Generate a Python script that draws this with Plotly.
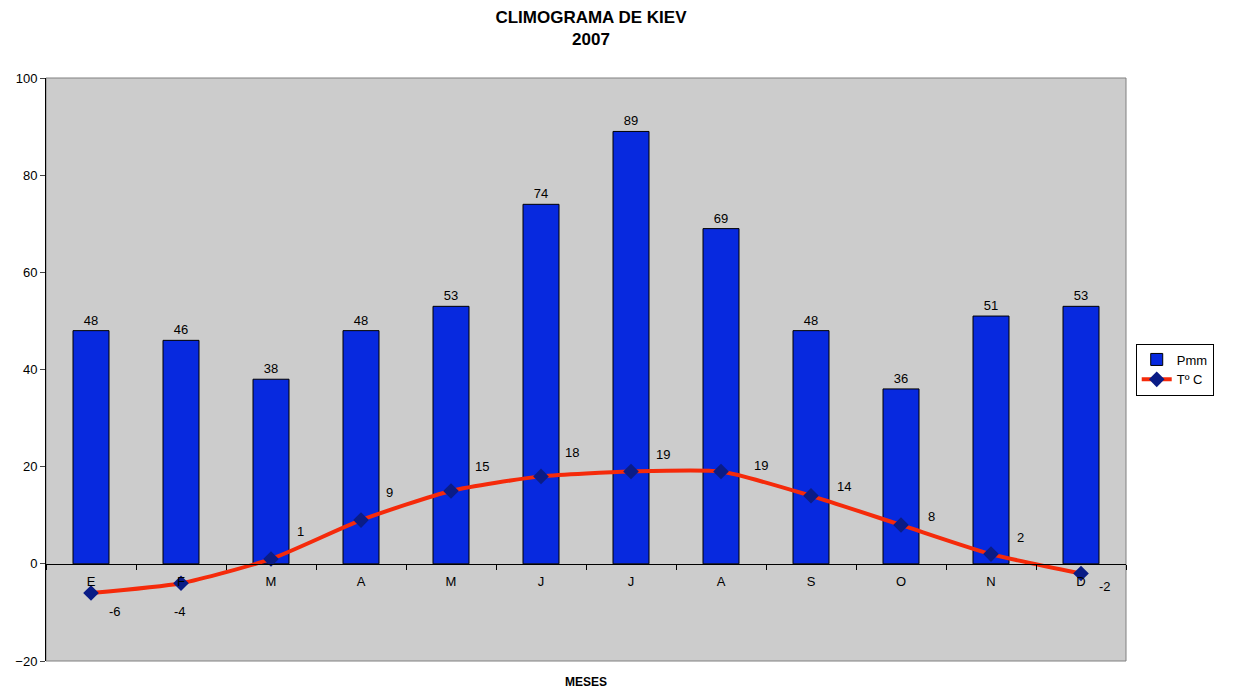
import plotly.graph_objects as go

months = ["E", "F", "M", "A", "M", "J", "J", "A", "S", "O", "N", "D"]
precip_mm = [48, 46, 38, 48, 53, 74, 89, 69, 48, 36, 51, 53]
temp_c = [-6, -4, 1, 9, 15, 18, 19, 19, 14, 8, 2, -2]

# label offsets (pixels) for temperature data labels, as in the original chart
temp_label_dx = [24, -1, 29, 28, 31, 31, 32, 40, 33, 30, 29, 24]
temp_label_dy = [-19, -28, 27, 28, 24, 24, 17, 6, 9, 8, 17, -13]

# unique category keys so repeated month letters stay separate
keys = list(range(len(months)))

FONT = "Liberation Sans, Arial, sans-serif"

fig = go.Figure()
fig.add_trace(go.Bar(
    x=keys, y=precip_mm, name="Pmm",
    marker=dict(color="#0729DF", line=dict(color="black", width=1)),
    width=0.4,
    text=[str(v) for v in precip_mm], textposition="outside",
    textfont=dict(size=13, color="black", family=FONT),
    cliponaxis=False,
))
fig.add_trace(go.Scatter(
    x=keys, y=temp_c, name="Tº C", mode="lines+markers",
    line=dict(color="#F52A0A", width=4, shape="spline", smoothing=0.6),
    marker=dict(symbol="diamond", size=12, color="#0A1C86"),
    cliponaxis=False,
))

for k, v, dx, dy in zip(keys, temp_c, temp_label_dx, temp_label_dy):
    fig.add_annotation(x=k, y=v, text=str(v), showarrow=False,
                       xshift=dx, yshift=dy,
                       font=dict(size=13, color="black", family=FONT))

fig.update_layout(
    width=1235, height=691,
    margin=dict(l=46, r=109, t=78, b=30, autoexpand=False),
    paper_bgcolor="white", plot_bgcolor="#CCCCCC",
    font=dict(family=FONT, size=13, color="black"),
    title=dict(text="<b>CLIMOGRAMA DE KIEV<br>2007</b>", x=0.4785, xanchor="center",
               y=0.967, yanchor="top", font=dict(size=17, family=FONT)),
    showlegend=True,
    legend=dict(x=1.009, xanchor="left", y=0.5, yanchor="middle",
                bordercolor="black", borderwidth=1, bgcolor="white",
                font=dict(size=13, family=FONT), itemwidth=30,
                tracegroupgap=0),
    bargap=0.6,
    xaxis=dict(type="category", tickmode="array", tickvals=keys, ticktext=months,
               anchor="free", position=20 / 120, showline=True, linecolor="black",
               linewidth=1, ticks="outside", ticklen=5, tickcolor="black",
               tickson="boundaries", showgrid=False, zeroline=False,
               ticklabelstandoff=6,
               tickfont=dict(size=13, family=FONT), range=[-0.5, 11.5]),
    yaxis=dict(range=[-20, 100], dtick=20, showline=True, linecolor="black",
               linewidth=1, ticks="outside", ticklen=5, showgrid=False,
               zeroline=False, tickfont=dict(size=13, family=FONT), domain=[0, 1]),
)

# gray frame on top/right/bottom of plot area
fig.add_shape(type="rect", xref="x domain", yref="y domain", x0=0, x1=1, y0=0, y1=1,
              line=dict(color="#808080", width=1), layer="below")

fig.add_annotation(text="<b>MESES</b>", xref="paper", yref="paper", x=0.5, y=0,
                   yshift=-21, showarrow=False, yanchor="middle",
                   font=dict(size=12, family=FONT))

fig.write_html("out.html", config={"displayModeBar": False},
               post_script="document.body.style.margin='0';document.body.style.overflow='hidden';")
